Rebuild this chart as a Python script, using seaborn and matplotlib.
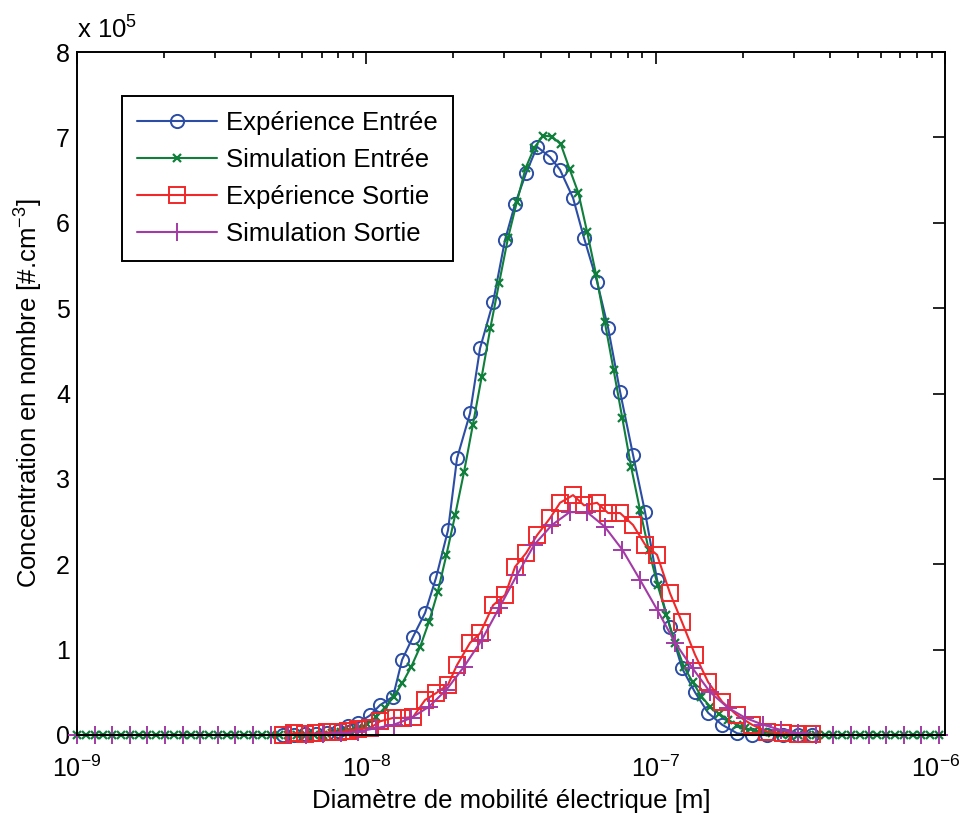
import numpy as np
import matplotlib
matplotlib.use("Agg")
import matplotlib.pyplot as plt
import matplotlib.transforms as mtransforms
import seaborn as sns
from matplotlib.ticker import FixedLocator, FuncFormatter, LogLocator, NullFormatter

# ---------------- data ----------------
# experimental SMPS channels (nm)
exp_diam_nm = [5.15, 5.63, 6.14, 6.70, 7.31, 7.98, 8.64, 9.36, 10.30, 11.15,
               12.37, 13.29, 14.50, 15.96, 17.41, 19.16, 20.58, 22.83, 24.72, 27.42,
               30.16, 32.66, 35.65, 38.90, 43.15, 46.72, 51.82, 56.56, 62.72, 68.48,
               75.34, 83.53, 91.91, 101.1, 112.1, 123.4, 136.8, 151.8, 169.7, 191.2,
               215.4, 242.8, 275.7, 310.7, 347.3]
# concentrations in units of 1e5 #/cm3
exp_entree = [0.0, 0.0, 0.01, 0.01, 0.02, 0.05, 0.105, 0.14, 0.23, 0.35,
              0.45, 0.88, 1.15, 1.43, 1.84, 2.40, 3.24, 3.77, 4.53, 5.07,
              5.80, 6.22, 6.58, 6.89, 6.77, 6.62, 6.29, 5.82, 5.31, 4.77,
              4.02, 3.28, 2.61, 1.82, 1.26, 0.78, 0.50, 0.26, 0.12, 0.02,
              0.0, 0.0, 0.0, 0.0, 0.0]
exp_sortie = [0.0, 0.02, 0.01, 0.02, 0.03, 0.03, 0.05, 0.07, 0.08, 0.16,
              0.20, 0.20, 0.21, 0.41, 0.49, 0.59, 0.82, 1.08, 1.19, 1.52,
              1.64, 1.97, 2.13, 2.34, 2.54, 2.72, 2.81, 2.69, 2.72, 2.60,
              2.60, 2.46, 2.23, 2.11, 1.66, 1.32, 0.94, 0.62, 0.39, 0.23,
              0.12, 0.04, 0.02, 0.01, 0.01]

# simulation grids (nm), log-spaced from 1 nm
sim_entree_diam_nm = np.logspace(0, 0.0304 * 98, 99)
sim_sortie_diam_nm = np.logspace(0, 0.0608 * 49, 50)
sim_entree = [0.0, 0.0, 0.0, 0.0, 0.0, 0.0, 0.0, 0.0, 0.0, 0.0,
              0.0, 0.0, 0.0, 0.0, 0.0, 0.0, 0.0, 0.0, 0.0, 0.0,
              0.0, 0.0, 0.0, 0.0, 0.0, 0.0, 0.0, 0.0, 0.0, 0.02,
              0.03, 0.05, 0.08, 0.13, 0.21, 0.32, 0.45, 0.61, 0.80, 1.03,
              1.32, 1.67, 2.11, 2.58, 3.08, 3.63, 4.19, 4.77, 5.30, 5.82,
              6.24, 6.64, 6.88, 7.02, 7.01, 6.92, 6.63, 6.35, 5.89, 5.40,
              4.84, 4.28, 3.71, 3.14, 2.64, 2.17, 1.76, 1.41, 1.08, 0.80,
              0.62, 0.45, 0.33, 0.25, 0.18, 0.12, 0.08, 0.05, 0.03, 0.02,
              0.01, 0.0, 0.0, 0.0, 0.0, 0.0, 0.0, 0.0, 0.0, 0.0,
              0.0, 0.0, 0.0, 0.0, 0.0, 0.0, 0.0, 0.0, 0.0]
sim_sortie = [0.0, 0.0, 0.0, 0.0, 0.0, 0.0, 0.0, 0.0, 0.0, 0.0,
              0.0, 0.0, 0.0, 0.0, 0.01, 0.02, 0.04, 0.08, 0.12, 0.20,
              0.33, 0.53, 0.80, 1.11, 1.49, 1.87, 2.23, 2.46, 2.61, 2.61,
              2.44, 2.17, 1.82, 1.46, 1.08, 0.78, 0.50, 0.32, 0.20, 0.12,
              0.06, 0.02, 0.0, 0.0, 0.0, 0.0, 0.0, 0.0, 0.0, 0.0]

labels = ["Expérience Entrée", "Simulation Entrée", "Expérience Sortie", "Simulation Sortie"]
colors = ["#2B4DA5", "#0F7F3B", "#F0282A", "#A33AA6"]
y_ticks = [0, 1, 2, 3, 4, 5, 6, 7, 8]
x_ticks = [1e-9, 1e-8, 1e-7, 1e-6]

# ---------------- style ----------------
sns.set_theme(style="white")
plt.rcParams["font.family"] = ["Liberation Sans", "DejaVu Sans"]
plt.rcParams["mathtext.fontset"] = "custom"
plt.rcParams["mathtext.rm"] = "Liberation Sans"
plt.rcParams["mathtext.it"] = "Liberation Sans:italic"
plt.rcParams["mathtext.bf"] = "Liberation Sans:bold"
plt.rcParams["text.color"] = "black"
plt.rcParams["axes.labelcolor"] = "black"
plt.rcParams["legend.labelcolor"] = "black"

fig = plt.figure(figsize=(9.67, 8.16), dpi=100)
ax = fig.add_axes([77 / 967, 1 - 735 / 816, 868 / 967, 683 / 816])
ax.set_xscale("log")

series = [
    (exp_diam_nm, exp_entree, dict(marker="o", markersize=9.5, markerfacecolor="none", markeredgewidth=1.4)),
    (sim_entree_diam_nm, sim_entree, dict(marker="x", markersize=5.5, markeredgewidth=1.6)),
    (exp_diam_nm, exp_sortie, dict(marker="s", markersize=11.5, markerfacecolor="none", markeredgewidth=1.4)),
    (sim_sortie_diam_nm, sim_sortie, dict(marker="+", markersize=13, markeredgewidth=1.4)),
]
for (d, v, mk), lab, col in zip(series, labels, colors):
    x = np.asarray(d, dtype=float) * 1e-9
    y = np.asarray(v, dtype=float) * 1e5
    sns.lineplot(x=x, y=y, ax=ax, color=col, label=lab, linewidth=1.5,
                 markeredgecolor=col, estimator=None, errorbar=None, sort=False,
                 clip_on=False, **mk)

ax.set_xlim(1e-9, 1e-6)
ax.set_ylim(0, 8e5)


def fmt_x(v, p):
    e = int(round(np.log10(v)))
    return r"$\mathregular{10^{%d}}$" % e


ax.xaxis.set_major_locator(FixedLocator(x_ticks))
ax.xaxis.set_major_formatter(FuncFormatter(fmt_x))
ax.xaxis.set_minor_locator(LogLocator(base=10, subs=np.arange(2, 10), numticks=20))
ax.xaxis.set_minor_formatter(NullFormatter())
ax.yaxis.set_major_locator(FixedLocator([t * 1e5 for t in y_ticks]))
ax.yaxis.set_major_formatter(FuncFormatter(lambda v, p: f"{v / 1e5:g}"))

for s in ax.spines.values():
    s.set_visible(True)
    s.set_color("black")
    s.set_linewidth(1.4)
ax.tick_params(axis="both", which="both", direction="in", top=True, right=True,
               colors="black", labelsize=18, width=1.2)
ax.tick_params(axis="both", which="major", length=8.6)
ax.tick_params(axis="both", which="minor", length=4.5)
ax.tick_params(axis="x", which="major", pad=15)
ax.tick_params(axis="y", which="major", pad=5)

ax.set_xlabel("Diamètre de mobilité électrique [m]", fontsize=18.5, labelpad=5, color="black")
ax.set_ylabel("Concentration en nombre [#.cm$^{-3}$]", fontsize=18.5, labelpad=8, color="black")
ax.text(0.0, 1.012, r"x 10$^{5}$", transform=ax.transAxes, fontsize=18.5,
        ha="left", va="bottom", color="black")

leg = ax.legend(loc="upper left", bbox_to_anchor=(0.0518, 0.9356), borderaxespad=0,
                fontsize=18.5, frameon=True, fancybox=False, handlelength=3.1,
                handletextpad=0.35, labelspacing=0.5, borderpad=0.6)
leg.get_frame().set_edgecolor("black")
leg.get_frame().set_linewidth(1.4)
leg.get_frame().set_alpha(1)
for t in leg.get_texts():
    t.set_color("black")

# keep the last decade label inside the canvas (as in the reference)
fig.canvas.draw()
last = ax.get_xticklabels()[-1]
last.set_transform(last.get_transform() +
                   mtransforms.ScaledTranslation(-7 / 72, 0, fig.dpi_scale_trans))

fig.savefig("out.png", dpi=100, facecolor="white")
